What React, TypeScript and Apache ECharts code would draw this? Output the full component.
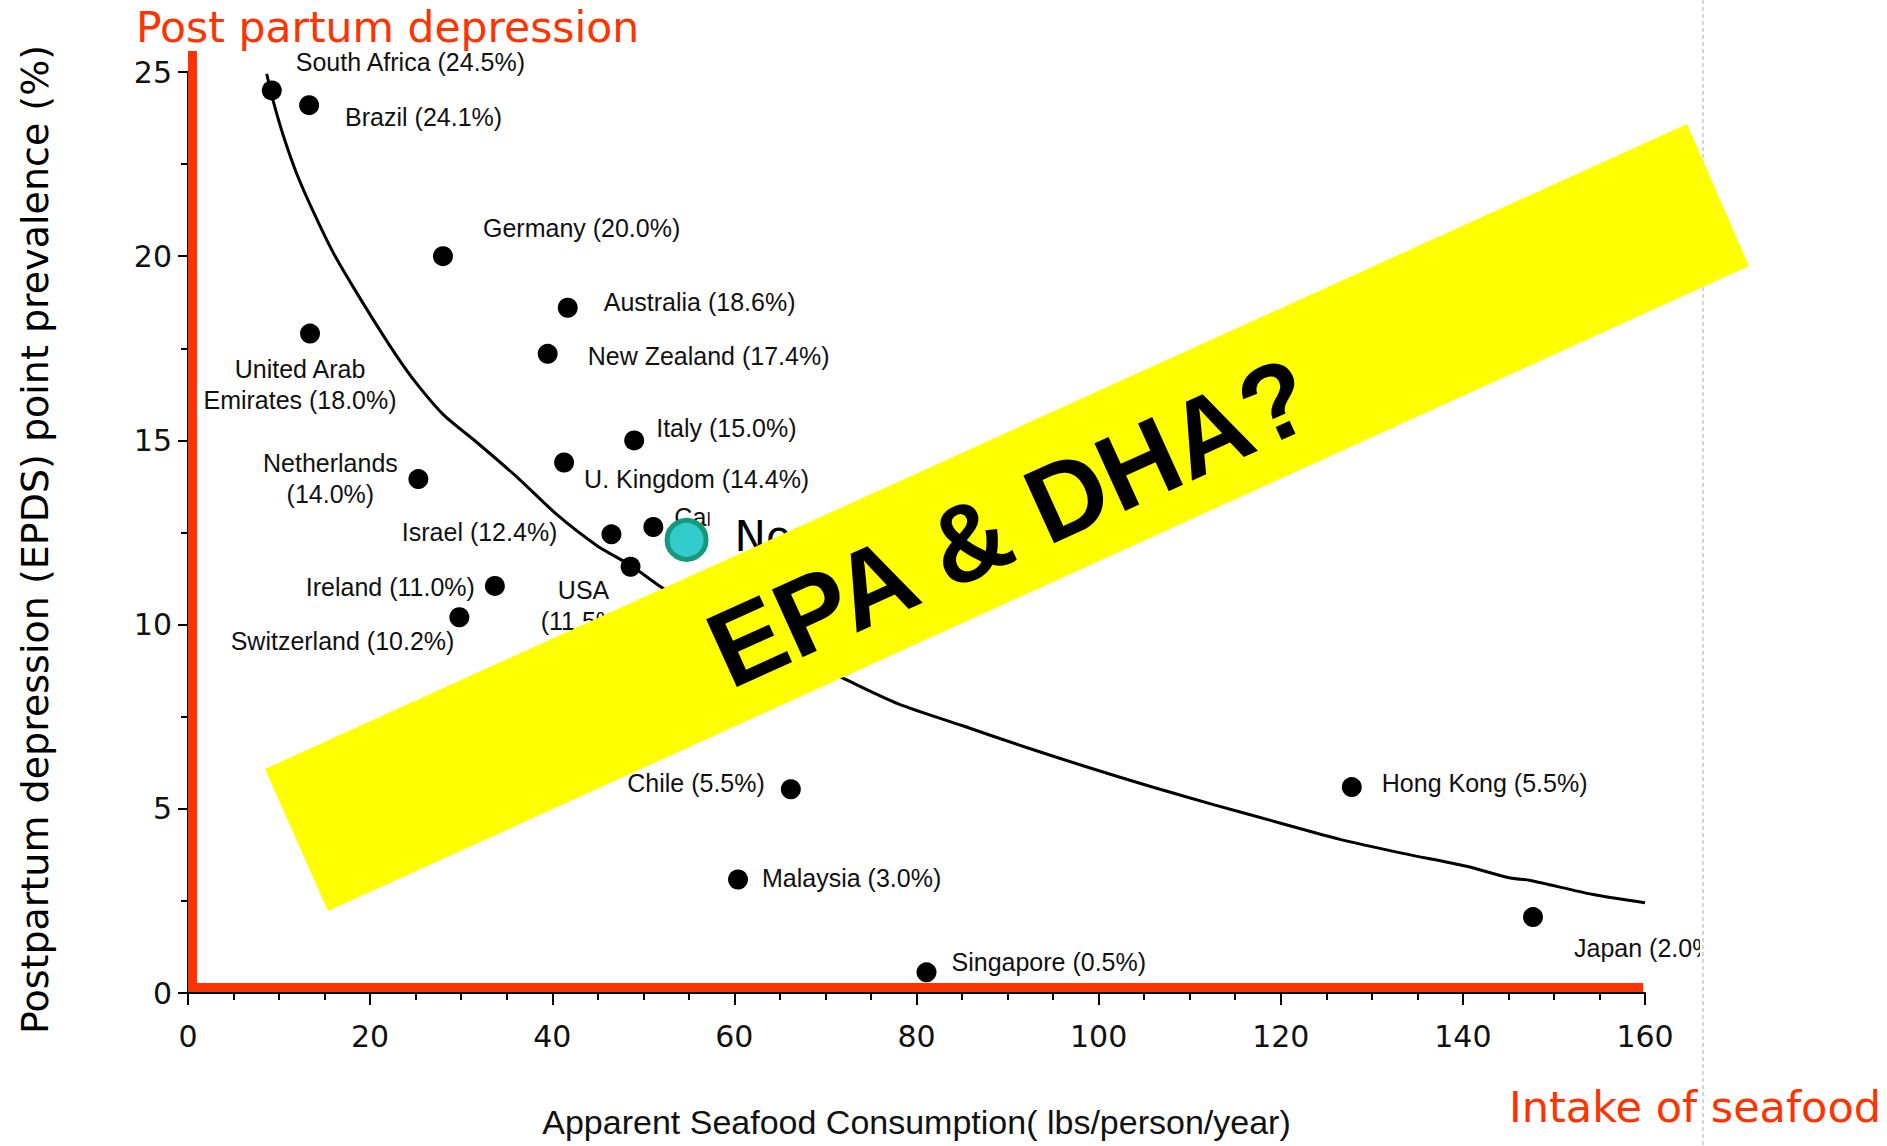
import React, { useEffect, useRef } from "react";
import * as echarts from "echarts";

// ---- Data ----
const countries = [
  "South Africa", "Brazil", "Germany", "United Arab Emirates", "Australia",
  "New Zealand", "Italy", "U. Kingdom", "Netherlands", "Israel", "Canada",
  "USA", "Ireland", "Switzerland", "Chile", "Malaysia", "Singapore",
  "Hong Kong", "Japan",
];
const seafoodLbs = [
  9.2, 13.3, 28.0, 13.4, 41.7, 39.5, 49.0, 41.3, 25.3, 46.5, 51.1, 48.6,
  33.7, 29.8, 66.2, 60.4, 81.1, 127.8, 147.7,
];
const ppdPrevalence = [
  24.5, 24.1, 20.0, 17.9, 18.6, 17.35, 15.0, 14.4, 13.95, 12.45, 12.65, 11.57,
  11.05, 10.2, 5.53, 3.08, 0.56, 5.59, 2.06,
];
const pointLabels = [
  "South Africa (24.5%)", "Brazil (24.1%)", "Germany (20.0%)",
  "United Arab\nEmirates (18.0%)", "Australia (18.6%)", "New Zealand (17.4%)",
  "Italy (15.0%)", "U. Kingdom (14.4%)", "Netherlands\n(14.0%)",
  "Israel (12.4%)", "Canada (12.7%)", "USA\n(11.5%)", "Ireland (11.0%)",
  "Switzerland (10.2%)", "Chile (5.5%)", "Malaysia (3.0%)",
  "Singapore (0.5%)", "Hong Kong (5.5%)", "Japan (2.0%)",
];
// label placement (pixels from the dot) and alignment
const labelOffsets = [
  [24, -28], [36, 12], [40, -28], [-10, 51], [36, -6], [40, 2], [22, -12],
  [20, 16], [-88, -1], [-54, -2], [21, -10], [-47, 39], [-20, 1], [-5, 24],
  [-26, -6], [24, -2], [25, -10], [30, -4], [41, 31],
];
const labelAligns = [
  "left", "left", "left", "center", "left", "left", "left", "left", "center",
  "right", "left", "center", "right", "right", "right", "left", "left",
  "left", "left",
];

const norwayName = "Norway";
const norwayPoint = [54.75, 12.3];

// fitted curve
const curveSeafood = [
  8.64, 9.37, 10.47, 11.94, 13.76, 15.96, 18.15, 20.72, 22.92, 25.11, 28.04,
  31.7, 36.1, 40.49, 44.88, 48.72, 52.2, 61.0, 71.8, 78.0, 85.0, 92.0, 98.9,
  105.8, 112.8, 119.7, 126.5, 133.4, 140.4, 145.2, 147.3, 154.2, 160.0,
];
const curvePrevalence = [
  24.95, 24.2, 23.27, 22.24, 21.21, 20.09, 19.16, 18.13, 17.29, 16.54, 15.7,
  14.95, 14.01, 12.99, 12.15, 11.59, 10.98, 9.8, 8.56, 7.85, 7.26, 6.67, 6.12,
  5.6, 5.1, 4.63, 4.17, 3.79, 3.44, 3.12, 3.06, 2.68, 2.45,
];

// red L-shaped frame drawn in data space
const frameSeafood = [0.49, 0.49, 159.8];
const framePrevalence = [25.57, 0.15, 0.15];

const xAxisName = "Apparent Seafood Consumption( lbs/person/year)";
const yAxisName = "Postpartum depression (EPDS) point prevalence (%)";
const topNote = "Post partum depression";
const bottomNote = "Intake of seafood";
const bannerText = "EPA & DHA?";

const RED = "#ff3300";
const LABEL_FONT = "'Liberation Sans', Arial, sans-serif";
const SANS = "'DejaVu Sans', Verdana, sans-serif";

export default function App() {
  const ref = useRef<HTMLDivElement>(null);

  useEffect(() => {
    document.body.style.margin = "0";
    const chart = echarts.init(ref.current as HTMLDivElement, null, {
      renderer: "svg",
    });

    const scatterData = countries.map((c, i) => ({
      name: c,
      value: [seafoodLbs[i], ppdPrevalence[i]],
      label: {
        offset: labelOffsets[i],
        align: labelAligns[i],
      },
    }));

    const staticGraphics: any[] = [
      {
        id: "pageEdgeMask",
        type: "rect",
        z: 50,
        silent: true,
        shape: { x: 1700, y: 0, width: 187, height: 1146 },
        style: { fill: "#ffffff" },
      },
      {
        id: "pageEdge",
        type: "line",
        z: 60,
        silent: true,
        shape: { x1: 1703, y1: 0, x2: 1703, y2: 1146 },
        style: { stroke: "#c8c8c8", lineWidth: 1.5, lineDash: [4, 3] },
      },
      {
        id: "band",
        type: "polygon",
        z: 100,
        silent: true,
        shape: { points: [[265, 769], [1687, 124], [1749, 266], [328, 911]] },
        style: { fill: "#ffff00" },
      },
      {
        id: "bannerText",
        type: "text",
        z: 101,
        silent: true,
        x: 1010,
        y: 522,
        rotation: 0.426,
        style: {
          text: bannerText,
          fontFamily: LABEL_FONT,
          fontWeight: "bold",
          fontSize: 108,
          fill: "#000",
          align: "center",
          verticalAlign: "middle",
        },
      },
      {
        id: "topNote",
        type: "text",
        z: 110,
        silent: true,
        x: 136,
        y: 27,
        style: {
          text: topNote,
          fontFamily: SANS,
          fontSize: 42.5,
          fill: RED,
          align: "left",
          verticalAlign: "middle",
        },
      },
      {
        id: "bottomNote",
        type: "text",
        z: 110,
        silent: true,
        x: 1509,
        y: 1107,
        style: {
          text: bottomNote,
          fontFamily: SANS,
          fontSize: 43,
          fill: RED,
          align: "left",
          verticalAlign: "middle",
        },
      },
    ];

    chart.setOption({
      animation: false,
      backgroundColor: "#ffffff",
      grid: { left: 188, right: 242, top: 72, bottom: 153 },
      xAxis: {
        type: "value",
        min: 0,
        max: 160,
        interval: 20,
        splitLine: { show: false },
        axisLine: { show: true, onZero: false, lineStyle: { color: "#000", width: 2 } },
        axisTick: { show: true, length: 12, lineStyle: { color: "#000", width: 2 } },
        minorTick: { show: true, splitNumber: 4, length: 7, lineStyle: { color: "#000", width: 2 } },
        axisLabel: { fontFamily: SANS, fontSize: 30, color: "#111", margin: 28 },
        name: xAxisName,
        nameLocation: "middle",
        nameGap: 112,
        nameTextStyle: { fontFamily: LABEL_FONT, fontSize: 34, color: "#111" },
      },
      yAxis: {
        type: "value",
        min: 0,
        max: 25,
        interval: 5,
        splitLine: { show: false },
        axisLine: { show: true, onZero: false, lineStyle: { color: "#000", width: 2 } },
        axisTick: { show: true, length: 10, lineStyle: { color: "#000", width: 2 } },
        minorTick: { show: true, splitNumber: 2, length: 7, lineStyle: { color: "#000", width: 2 } },
        axisLabel: { fontFamily: SANS, fontSize: 30, color: "#111", margin: 16, padding: [12, 0, 0, 0] },
        name: yAxisName,
        nameLocation: "middle",
        nameGap: 134,
        nameTextStyle: { fontFamily: SANS, fontSize: 38, color: "#000", padding: [0, 14, 0, 0] },
      },
      series: [
        {
          type: "line",
          data: curveSeafood.map((x, i) => [x, curvePrevalence[i]]),
          smooth: 0.25,
          symbol: "none",
          silent: true,
          lineStyle: { color: "#000", width: 3 },
          z: 2,
        },
        {
          type: "line",
          data: frameSeafood.map((x, i) => [x, framePrevalence[i]]),
          symbol: "none",
          silent: true,
          clip: false,
          lineStyle: { color: RED, width: 9, join: "miter", cap: "butt" },
          z: 3,
        },
        {
          type: "scatter",
          data: scatterData,
          symbol: "circle",
          symbolSize: 20,
          itemStyle: { color: "#000", opacity: 1 },
          silent: true,
          z: 4,
          label: {
            show: true,
            position: "inside",
            formatter: (p: any) => pointLabels[p.dataIndex],
            color: "#111",
            textBorderWidth: 0,
            fontFamily: LABEL_FONT,
            fontSize: 25,
            lineHeight: 31,
            verticalAlign: "middle",
          },
        },
        {
          type: "scatter",
          data: [{ name: norwayName, value: norwayPoint }],
          symbol: "circle",
          symbolSize: 39,
          silent: true,
          itemStyle: { color: "#33cccc", borderColor: "#17987c", borderWidth: 5, opacity: 1 },
          z: 5,
          label: { show: false },
        },
      ],
      graphic: staticGraphics,
    });

    // Norway text box, anchored to the Norway point through the chart's scales
    const pt = chart.convertToPixel({ gridIndex: 0 }, norwayPoint) as number[];
    if (pt && isFinite(pt[0]) && isFinite(pt[1])) {
      chart.setOption({
        graphic: [
          ...staticGraphics,
          {
            id: "norwayBox",
            type: "rect",
            z: 90,
            silent: true,
            shape: { x: pt[0] + 23, y: pt[1] - 42, width: 170, height: 70 },
            style: { fill: "#ffffff" },
          },
          {
            id: "norwayText",
            type: "text",
            z: 91,
            silent: true,
            x: pt[0] + 48,
            y: pt[1] - 3,
            style: {
              text: norwayName,
              fontFamily: SANS,
              fontSize: 42,
              fill: "#000",
              align: "left",
              verticalAlign: "middle",
            },
          },
        ],
      });
    }

    return () => chart.dispose();
  }, []);

  return <div ref={ref} style={{ width: 1887, height: 1146 }} />;
}
